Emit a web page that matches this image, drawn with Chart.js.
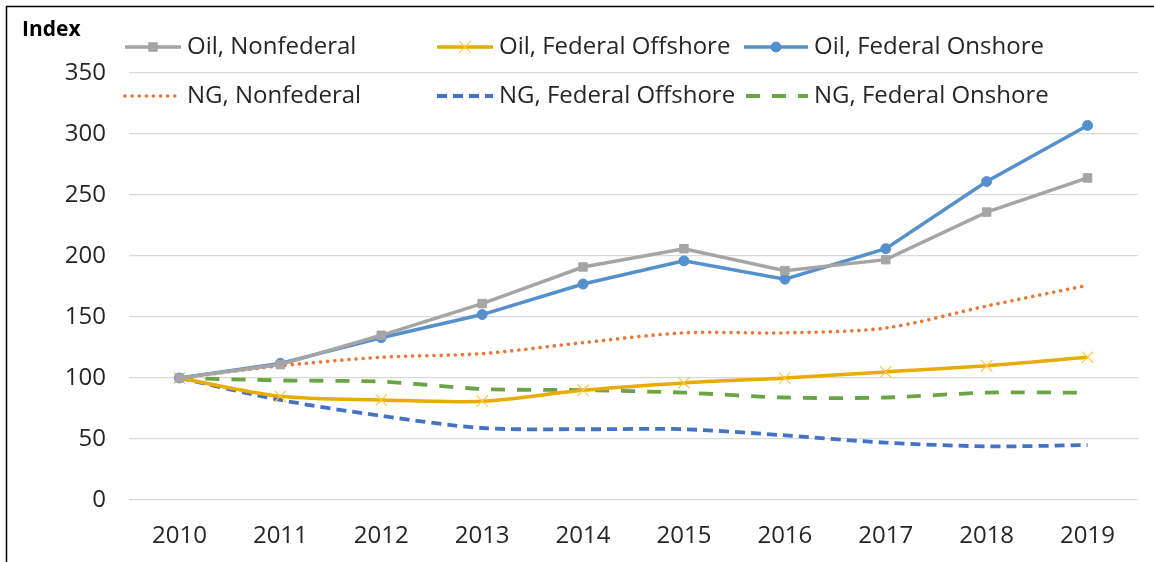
<!DOCTYPE html>
<html>
<head>
<meta charset="utf-8">
<script src="https://cdn.jsdelivr.net/npm/chart.js@4.4.1/dist/chart.umd.min.js"></script>
<style>
  html, body { margin: 0; padding: 0; background: #fff; }
  #wrap { width: 1154px; height: 562px; position: relative; }
</style>
</head>
<body>
<div id="wrap"><canvas id="indexChart"></canvas></div>
<script>
const years = ["2010", "2011", "2012", "2013", "2014", "2015", "2016", "2017", "2018", "2019"];
const oilNonfederal = [100, 111, 135, 161, 191, 206, 188, 197, 236, 264];
const oilFedOffshore = [100, 85, 82, 81, 90, 96, 100, 105, 110, 117];
const oilFedOnshore = [100, 112, 133, 152, 177, 196, 181, 206, 261, 307];
const ngNonfederal = [100, 110, 117, 120, 129, 137, 137, 141, 159, 176];
const ngFedOffshore = [100, 82, 69, 59, 58, 58, 53, 47, 44, 45];
const ngFedOnshore = [100, 98, 97, 91, 90, 88, 84, 84, 88, 88];

const FONT = "'Open Sans', 'Liberation Sans', sans-serif";
const TEXT = "#262626";

// legend drawn by hand, Excel style: two rows inside the plot
const legendSpots = [
  [125, 47, 56], [437, 47, 56], [744, 47, 64],
  [125, 96, 56], [437, 96, 56], [746, 96, 62],
];

const frameAndLegend = {
  id: "frameAndLegend",
  afterDraw(chart) {
    const ctx = chart.ctx;
    ctx.save();
    // outer frame (top and left edges only visible)
    ctx.strokeStyle = "#000";
    ctx.lineWidth = 1.5;
    ctx.beginPath();
    ctx.moveTo(6.5, 562);
    ctx.lineTo(6.5, 6.5);
    ctx.lineTo(1154, 6.5);
    ctx.stroke();

    // axis title
    ctx.fillStyle = "#000";
    ctx.font = "bold 21px " + FONT;
    ctx.textBaseline = "middle";
    ctx.textAlign = "left";
    ctx.fillText("Index", 22, 30);

    chart.data.datasets.forEach((ds, i) => {
      const [x, y, len] = legendSpots[i];
      ctx.save();
      ctx.strokeStyle = ds.borderColor;
      ctx.lineWidth = ds.borderWidth;
      ctx.lineCap = ds.borderCapStyle || "butt";
      ctx.setLineDash(ds.borderDash || []);
      ctx.beginPath();
      ctx.moveTo(x, y);
      ctx.lineTo(x + len, y);
      ctx.stroke();
      ctx.setLineDash([]);
      if (ds.pointRadius > 0) {
        ctx.fillStyle = ds.pointBackgroundColor;
        ctx.strokeStyle = ds.pointBorderColor;
        ctx.lineWidth = ds.pointBorderWidth;
        Chart.helpers.drawPoint(ctx, {
          pointStyle: ds.pointStyle,
          radius: ds.pointRadius,
          borderWidth: ds.pointBorderWidth,
          rotation: 0,
        }, x + len / 2, y);
      }
      ctx.restore();
      ctx.fillStyle = TEXT;
      ctx.font = "24px " + FONT;
      ctx.textBaseline = "middle";
      ctx.fillText(ds.label, x + len + 6, y);
    });
    ctx.restore();
  },
};

const ctx = document.getElementById("indexChart");
const chart = new Chart(ctx, {
  type: "line",
  data: {
    labels: years,
    datasets: [
      {
        label: "Oil, Nonfederal",
        data: oilNonfederal,
        borderColor: "#a5a5a5",
        borderWidth: 3.5,
        pointStyle: "rect",
        pointRadius: 6,
        pointBackgroundColor: "#a5a5a5",
        pointBorderColor: "#a5a5a5",
        pointBorderWidth: 1,
        tension: 0,
      },
      {
        label: "Oil, Federal Offshore",
        data: oilFedOffshore,
        borderColor: "#e8ab00",
        borderWidth: 3.5,
        pointStyle: "crossRot",
        pointRadius: 8,
        pointBackgroundColor: "#ffc000",
        pointBorderColor: "#ffc640",
        pointBorderWidth: 1.2,
        tension: 0.3,
      },
      {
        label: "Oil, Federal Onshore",
        data: oilFedOnshore,
        borderColor: "#5590cc",
        borderWidth: 3.5,
        pointStyle: "circle",
        pointRadius: 5,
        pointBackgroundColor: "#5590cc",
        pointBorderColor: "#5590cc",
        pointBorderWidth: 1,
        tension: 0,
      },
      {
        label: "NG, Nonfederal",
        data: ngNonfederal,
        borderColor: "#e8783a",
        borderWidth: 3.6,
        borderDash: [0.1, 7],
        borderCapStyle: "round",
        pointRadius: 0,
        tension: 0.3,
      },
      {
        label: "NG, Federal Offshore",
        data: ngFedOffshore,
        borderColor: "#4472c4",
        borderWidth: 3.8,
        borderDash: [10, 6],
        pointRadius: 0,
        tension: 0.3,
      },
      {
        label: "NG, Federal Onshore",
        data: ngFedOnshore,
        borderColor: "#69a544",
        borderWidth: 3.8,
        borderDash: [14, 12],
        pointRadius: 0,
        tension: 0.3,
      },
    ],
  },
  options: {
    responsive: true,
    maintainAspectRatio: false,
    animation: false,
    devicePixelRatio: 1,
    layout: { padding: { left: 0, right: 16, top: 73, bottom: 0 } },
    plugins: {
      legend: { display: false },
      tooltip: { enabled: false },
    },
    scales: {
      x: {
        offset: true,
        grid: { display: false, drawTicks: false },
        border: { display: false },
        ticks: { color: TEXT, font: { family: FONT, size: 24 }, padding: 22, maxRotation: 0 },
        afterFit(scale) { scale.height = 62; },
      },
      y: {
        min: 0,
        max: 350,
        grid: { color: "#d9d9d9", lineWidth: 1.3, drawTicks: false },
        border: { display: false },
        ticks: { stepSize: 50, color: TEXT, font: { family: FONT, size: 24 }, padding: 23 },
        afterFit(scale) { scale.width = 129; },
      },
    },
  },
  plugins: [frameAndLegend],
});
</script>
</body>
</html>
